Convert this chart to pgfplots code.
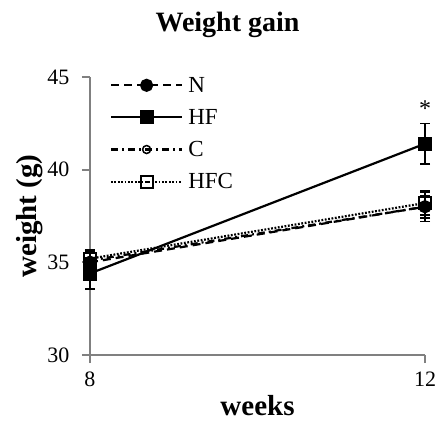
\documentclass[border=0pt]{standalone}
\usepackage{pgfplots}
\pgfplotsset{compat=1.18}
\usepackage{fontspec}
\setmainfont{Liberation Serif}
\begin{document}
\begin{tikzpicture}
\path[use as bounding box] (-90pt,-74pt) rectangle (348pt,355pt);
\begin{axis}[
  at={(0pt,0pt)}, anchor=origin,
  scale only axis, width=335pt, height=278pt,
  xmin=8, xmax=12, ymin=30, ymax=45,
  xtick={8,12}, ytick={30,35,40,45},
  axis x line*=bottom, axis y line*=left,
  axis line style={draw=black!50, line width=1.8pt, -},
  every tick/.style={draw=black!50, line width=1.8pt},
  tick align=outside, major tick length=8pt,
  /pgf/number format/assume math mode=true,
  ticklabel style={font=\fontsize{22}{24}\selectfont},
  yticklabel style={xshift=-9pt},
  xticklabel style={yshift=-5pt},
  xlabel={\textbf{weeks}}, ylabel={\textbf{weight (g)}},
  xlabel style={font=\fontsize{29}{32}\selectfont, yshift=-2pt},
  ylabel style={font=\fontsize{29}{32}\selectfont, yshift=-2pt},
  title={\textbf{Weight gain}},
  title style={font=\fontsize{28}{31}\selectfont, yshift=30pt, xshift=-30pt},
  clip=false,
  legend style={draw=none, fill=none, at={(0.05,1.015)}, anchor=north west,
    font=\fontsize{23}{26}\selectfont, row sep=11.5pt, legend cell align=left,
    nodes={inner xsep=5pt}},
  legend image code/.code={\draw[mark repeat=2,mark phase=2,#1] plot coordinates {(0cm,0cm) (1.25cm,0cm) (2.5cm,0cm)};},
  error bars/error bar style={line width=1.5pt, solid, black},
  error bars/error mark options={rotate=90, mark size=5pt, line width=1.5pt, solid, black},
]
\addplot[black, line width=2.2pt, dash pattern=on 8pt off 5pt, mark=*, mark size=5.5pt, mark options={solid, fill=black},
  error bars/.cd, y dir=both, y explicit]
  coordinates {(8,35.0) +- (0,0.6) (12,38.0) +- (0,0.8)};
\addlegendentry{N}
\addplot[black, line width=2.2pt, solid, mark=square*, mark size=6pt, mark options={solid, fill=black},
  error bars/.cd, y dir=both, y explicit]
  coordinates {(8,34.4) +- (0,0.85) (12,41.4) +- (0,1.1)};
\addlegendentry{HF}
\addplot[black, line width=2.2pt, dash pattern=on 7pt off 4pt on 2pt off 4pt, mark=o, mark size=4pt, mark options={solid, fill=white, line width=1.5pt},
  error bars/.cd, y dir=both, y explicit]
  coordinates {(8,35.1) +- (0,0.5) (12,38.0) +- (0,0.6)};
\addlegendentry{C}
\addplot[black, line width=2.2pt, dash pattern=on 1.8pt off 1.6pt, mark=square, mark size=6pt, mark options={solid, fill=white, line width=1.8pt},
  error bars/.cd, y dir=both, y explicit]
  coordinates {(8,35.2) +- (0,0.5) (12,38.2) +- (0,0.65)};
\addlegendentry{HFC}
\node[font=\fontsize{24}{26}\selectfont] at (axis cs:12,43.3) {*};
\end{axis}
\end{tikzpicture}
\end{document}
